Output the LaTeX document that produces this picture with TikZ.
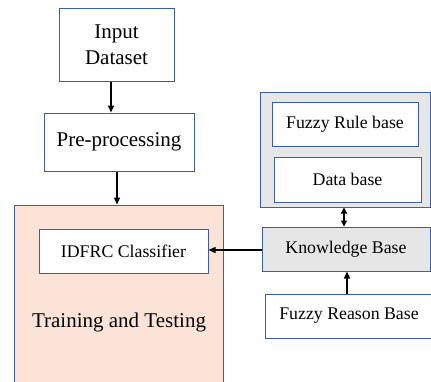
\documentclass[tikz,border=0pt]{standalone}
\usepackage{fontspec}
\setmainfont{Liberation Serif}
\usetikzlibrary{arrows.meta}
\definecolor{edgeblue}{HTML}{3B5EA6}
\definecolor{peach}{HTML}{FBE4D7}
\definecolor{panelgray}{HTML}{E6E6E6}
\tikzset{
  box/.style={draw=edgeblue, line width=1pt, fill=white, align=center, inner sep=0pt},
  bigtext/.style={font=\fontsize{21}{26}\selectfont},
  smalltext/.style={font=\fontsize{17.8}{21}\selectfont},
  arr/.style={draw=black, line width=1.3pt, -{Triangle[length=7pt,width=6pt]}},
  darr/.style={draw=black, line width=1.3pt, {Triangle[length=6pt,width=6pt]}-{Triangle[length=6pt,width=6pt]}}
}
\begin{document}
\begin{tikzpicture}[x=1pt, y=-1pt]
  \useasboundingbox (0,0) rectangle (431,381);
  \clip (0,0) rectangle (431,381);
  \fill[white] (0,0) rectangle (431,381);

  % left column
  \node[box, bigtext, minimum width=115pt, minimum height=73pt] (input) at (116.5,44.5) {Input\\Dataset};
  \node[box, bigtext, minimum width=150pt, minimum height=58pt] (pre) at (119,142) {Pre-processing};
  \node[box, fill=peach, minimum width=209pt, minimum height=195pt] (train) at (118.5,302.5) {};
  \node[bigtext] (trainlabel) at (119,322) {Training and Testing};
  \node[box, smalltext, minimum width=169pt, minimum height=44pt] (idfrc) at (123.5,251) {IDFRC Classifier};

  % right column
  \node[box, fill=panelgray, minimum width=170pt, minimum height=115pt] (panel) at (345,149.5) {};
  \node[box, smalltext, minimum width=146pt, minimum height=44pt] (rule) at (345,124) {Fuzzy Rule base};
  \node[box, smalltext, minimum width=147pt, minimum height=45pt] (data) at (347.5,179.5) {Data base};
  \node[box, smalltext, fill=panelgray, minimum width=168pt, minimum height=44pt] (kb) at (346,249) {Knowledge Base};
  \node[box, smalltext, minimum width=168pt, minimum height=44pt] (reason) at (349,316) {Fuzzy Reason Base};

  % connectors
  \draw[arr] ([xshift=-5.5pt]input.south) -- ([xshift=-5.5pt]input.south |- pre.north);
  \draw[arr] ([xshift=-2pt]pre.south) -- ([xshift=-2pt]pre.south |- train.north);
  \draw[arr] ([yshift=-1pt]kb.west) -- ([yshift=-1pt]kb.west -| idfrc.east);
  \draw[darr] ([xshift=-1pt]panel.south) -- ([xshift=-1pt]panel.south |- kb.north);
  \draw[arr] ([xshift=-2pt]reason.north) -- ([xshift=-2pt]reason.north |- kb.south);
\end{tikzpicture}
\end{document}
